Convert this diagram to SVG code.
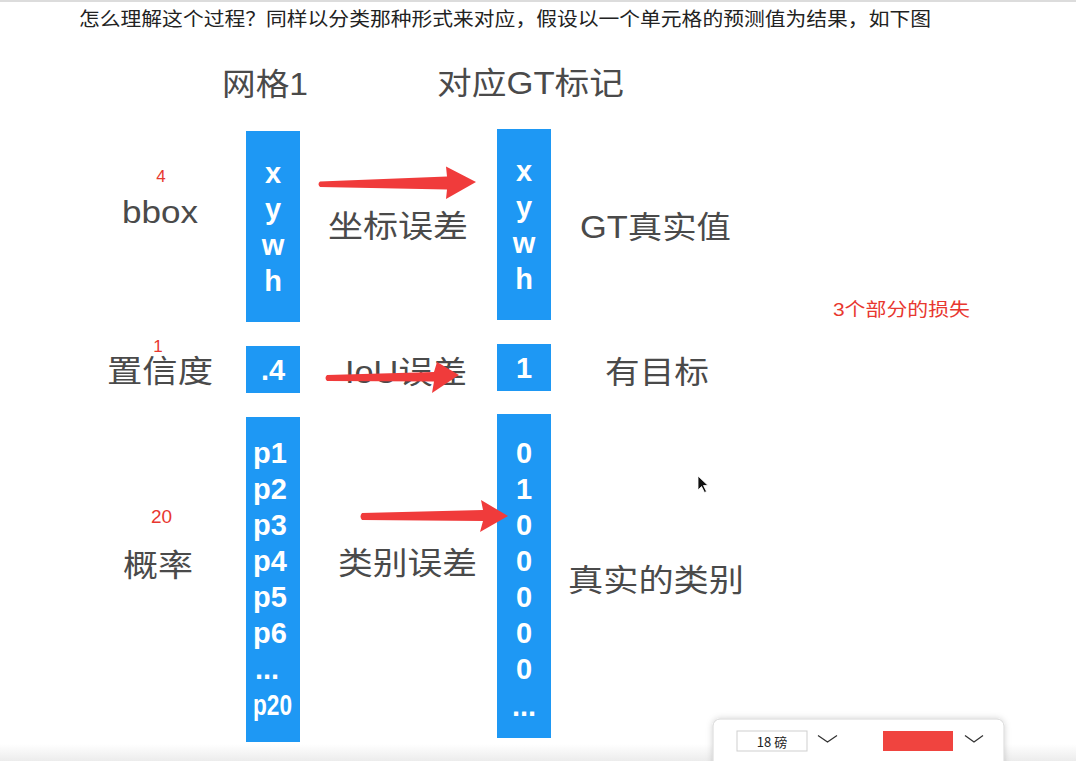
<svg xmlns="http://www.w3.org/2000/svg" width="1076" height="761" viewBox="0 0 1076 761">
<defs>
<linearGradient id="btm" x1="0" y1="0" x2="0" y2="1"><stop offset="0" stop-color="#ffffff"/><stop offset="1" stop-color="#ececec"/></linearGradient>
<filter id="sh" x="-10%" y="-40%" width="120%" height="180%"><feDropShadow dx="0" dy="0" stdDeviation="3" flood-color="#000" flood-opacity="0.18"/></filter>
</defs>
<style>
.box{fill:#1e98f4}
.bt{font-family:"Liberation Sans",Arial,sans-serif;font-weight:bold;font-size:29px;fill:#ffffff}
.c{text-anchor:middle}
.lbl{font-family:"Liberation Sans","Noto Sans CJK SC",sans-serif;font-size:31px;fill:#4a4a4a}
.red{font-family:"Liberation Sans","Noto Sans CJK SC",sans-serif;fill:#e8372f}
.arr{fill:#f03b3b}
.title{font-family:"Noto Sans CJK SC",sans-serif;font-size:19px;fill:#222222}
</style>
<rect width="1076" height="761" fill="#ffffff"/>
<rect x="0" y="0" width="1076" height="2" fill="#dcdcdc"/>
<rect x="0" y="744" width="1076" height="17" fill="url(#btm)"/>

<text class="title" x="79" y="26" textLength="852" lengthAdjust="spacingAndGlyphs">怎么理解这个过程？同样以分类那种形式来对应，假设以一个单元格的预测值为结果，如下图</text>

<g id="header-grid">
<text class="lbl" x="222" y="95" textLength="86" lengthAdjust="spacingAndGlyphs">网格1</text>
</g>
<g id="header-gt">
<text class="lbl" x="437" y="94" textLength="187" lengthAdjust="spacingAndGlyphs">对应GT标记</text>
</g>

<g id="label-bbox">
<text class="red c" x="161" y="182" font-size="17">4</text>
<text class="lbl" x="122" y="223" textLength="76" lengthAdjust="spacingAndGlyphs">bbox</text>
</g>
<g id="label-conf">
<text class="red c" x="158" y="352" font-size="17">1</text>
<text class="lbl" x="107" y="382" textLength="106" lengthAdjust="spacingAndGlyphs">置信度</text>
</g>
<g id="label-prob">
<text class="red c" x="161.5" y="523" font-size="19">20</text>
<text class="lbl" x="123" y="576" textLength="70" lengthAdjust="spacingAndGlyphs">概率</text>
</g>

<g id="pred-bbox">
<rect class="box" x="246" y="131" width="54" height="191"/>
<text class="bt c" x="273" y="183">x</text>
<text class="bt c" x="273" y="219">y</text>
<text class="bt c" x="273" y="255">w</text>
<text class="bt c" x="273" y="291">h</text>
</g>
<g id="pred-conf">
<rect class="box" x="246" y="346" width="54" height="47"/>
<text class="bt c" x="273" y="380">.4</text>
</g>
<g id="pred-prob">
<rect class="box" x="246" y="417" width="54" height="325"/>
<text class="bt" x="253" y="463">p1</text>
<text class="bt" x="253" y="499">p2</text>
<text class="bt" x="253" y="535">p3</text>
<text class="bt" x="253" y="571">p4</text>
<text class="bt" x="253" y="607">p5</text>
<text class="bt" x="253" y="643">p6</text>
<text class="bt" x="255" y="679">...</text>
<text class="bt" x="253" y="715" textLength="39" lengthAdjust="spacingAndGlyphs">p20</text>
</g>

<g id="gt-bbox">
<rect class="box" x="497" y="129" width="54" height="191"/>
<text class="bt c" x="524" y="181">x</text>
<text class="bt c" x="524" y="217">y</text>
<text class="bt c" x="524" y="253">w</text>
<text class="bt c" x="524" y="289">h</text>
</g>
<g id="gt-conf">
<rect class="box" x="497" y="344" width="54" height="47"/>
<text class="bt c" x="524" y="378">1</text>
</g>
<g id="gt-prob">
<rect class="box" x="497" y="414" width="54" height="324"/>
<text class="bt c" x="524" y="463">0</text>
<text class="bt c" x="524" y="499">1</text>
<text class="bt c" x="524" y="535">0</text>
<text class="bt c" x="524" y="571">0</text>
<text class="bt c" x="524" y="607">0</text>
<text class="bt c" x="524" y="643">0</text>
<text class="bt c" x="524" y="679">0</text>
<text class="bt c" x="524" y="716">...</text>
</g>

<g id="label-coord-err">
<text class="lbl" x="328" y="237" textLength="140" lengthAdjust="spacingAndGlyphs">坐标误差</text>
</g>
<g id="label-iou-err">
<text class="lbl" x="345" y="383" textLength="122" lengthAdjust="spacingAndGlyphs">IoU误差</text>
</g>
<g id="label-class-err">
<text class="lbl" x="338" y="574" textLength="139" lengthAdjust="spacingAndGlyphs">类别误差</text>
</g>
<g id="label-gt-value">
<text class="lbl" x="580" y="238" textLength="151" lengthAdjust="spacingAndGlyphs">GT真实值</text>
</g>
<g id="label-has-obj">
<text class="lbl" x="605" y="383" textLength="104" lengthAdjust="spacingAndGlyphs">有目标</text>
</g>
<g id="label-true-class">
<text class="lbl" x="568" y="591" textLength="176" lengthAdjust="spacingAndGlyphs">真实的类别</text>
</g>
<g id="label-loss">
<text class="red" x="833" y="316" font-size="18.5" textLength="137" lengthAdjust="spacingAndGlyphs">3个部分的损失</text>
</g>

<g id="connectors">
<path class="arr" d="M320,181.5 L447,176.5 L446,166.5 L476,182 L446,199 L447,189.5 L320,187 Q317,184 320,181.5 Z"/>
<path class="arr" d="M327,375 L434,372 L437,362 L459,375 L432,393 L434,381.5 L327,381 Q324,378 327,375 Z"/>
<path class="arr" d="M362,513 L483,510 L481,500 L508,516 L480,532 L483,521 L362,520 Q359,516.5 362,513 Z"/>
</g>

<g id="cursor">
<path d="M698,476 L698,490 L701.5,486.5 L704.5,492.5 L706.5,491.5 L703.5,485.5 L708,485.5 Z" fill="#111111" stroke="#ffffff" stroke-width="0.8"/>
</g>

<g id="toolbar">
<rect x="713" y="719" width="291" height="50" rx="7" fill="#ffffff" stroke="#d8d8d8" stroke-width="1" filter="url(#sh)"/>
<rect x="737" y="731" width="70" height="20" fill="#ffffff" stroke="#cfcfcf" stroke-width="1"/>
<text x="772" y="747" font-family="'Noto Sans CJK SC',sans-serif" font-size="13" fill="#222222" text-anchor="middle">18 磅</text>
<polyline points="818,735.5 827.5,742 837,735.5" fill="none" stroke="#333333" stroke-width="1.3"/>
<rect x="883" y="731" width="70" height="20" fill="#f0443f"/>
<polyline points="965,735.5 974,742 983,735.5" fill="none" stroke="#333333" stroke-width="1.3"/>
</g>
</svg>
